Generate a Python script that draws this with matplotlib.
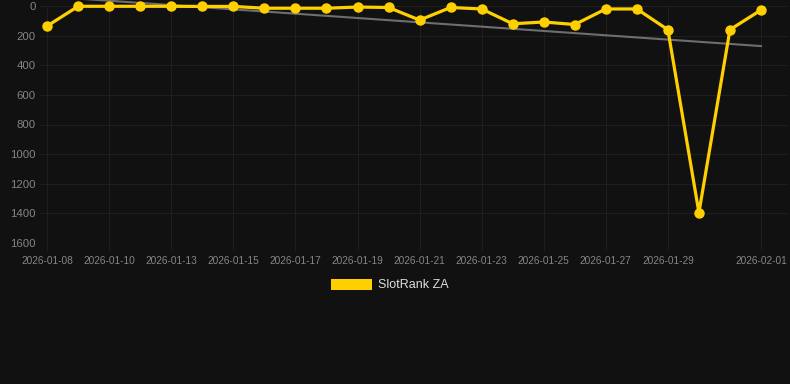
import numpy as np
import matplotlib
matplotlib.use("Agg")
import matplotlib.pyplot as plt
from matplotlib.patches import Patch

plt.rcParams["font.family"] = ["Liberation Sans", "DejaVu Sans"]

# datos
fechas = ["2026-01-08", "2026-01-09", "2026-01-10", "2026-01-11", "2026-01-13",
          "2026-01-14", "2026-01-15", "2026-01-16", "2026-01-17", "2026-01-18",
          "2026-01-19", "2026-01-20", "2026-01-21", "2026-01-22", "2026-01-23",
          "2026-01-24", "2026-01-25", "2026-01-26", "2026-01-27", "2026-01-28",
          "2026-01-29", "2026-01-30", "2026-01-31", "2026-02-01"]
rank = [135, 2, 2, 2, 2, 3, 3, 15, 15, 15, 7, 10, 95, 10, 20, 120, 108, 125,
        20, 20, 160, 1395, 160, 27]
etiquetas_idx = [0, 2, 4, 6, 8, 10, 12, 14, 16, 18, 20, 23]
y_ticks = [0, 200, 400, 600, 800, 1000, 1200, 1400, 1600]

FONDO = "#111111"
AMARILLO = "#FFD000"

fig = plt.figure(figsize=(7.9, 3.84), dpi=100, facecolor=FONDO)
ax = fig.add_axes([40 / 790, 1 - 243 / 384, 748 / 790, 237 / 384])
ax.set_facecolor(FONDO)

x = np.arange(len(rank))

# tendencia (regresion lineal)
m, b = np.polyfit(x, rank, 1)
ax.plot(x, m * x + b, color="#6e6e6e", lw=1.5, zorder=2, clip_on=False)

ax.plot(x, rank, color=AMARILLO, lw=2.3, marker="o", ms=6.5,
        zorder=3, clip_on=False)

ax.set_xlim(-0.23, 23.87)
ax.set_ylim(1600, 0)
ax.set_yticks(y_ticks)
ax.set_xticks(etiquetas_idx)
ax.set_xticklabels([fechas[i] for i in etiquetas_idx])

ax.grid(True, color="#1f1f1f", lw=0.8)
ax.tick_params(colors="#1f1f1f", labelcolor="#858585", labelsize=7.3,
               length=5, width=0.8, pad=4)
ax.tick_params(axis="y", length=0, pad=3, labelsize=8.2)
for s in ax.spines.values():
    s.set_visible(False)

leg = fig.legend(handles=[Patch(facecolor=AMARILLO, label="SlotRank ZA")],
                 loc="center", bbox_to_anchor=(390 / 790, 1 - 285 / 384),
                 frameon=False, fontsize=9, handlelength=3.3,
                 handleheight=1.0, handletextpad=0.5)
for t in leg.get_texts():
    t.set_color("#dddddd")

plt.savefig("out.png", facecolor=FONDO)
